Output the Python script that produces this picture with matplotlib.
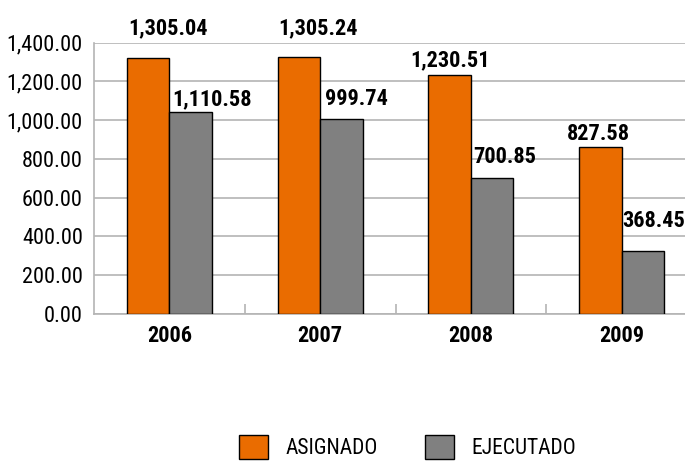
import matplotlib
matplotlib.use('Agg')
import matplotlib.pyplot as plt
import numpy as np

# values
years = ['2006', '2007', '2008', '2009']
asignado_height = [1322, 1328, 1235, 860]
ejecutado_height = [1042, 1006, 700, 325]
asignado_labels = ['1,305.04', '1,305.24', '1,230.51', '827.58']
ejecutado_labels = ['1,110.58', '999.74', '700.85', '368.45']
yticks = [0, 200, 400, 600, 800, 1000, 1200, 1400]

ORANGE = '#EA6C00'
GREY = '#808080'
GRID = '#B4B4B4'

plt.rcParams['font.family'] = ['Roboto Condensed', 'Archivo Narrow', 'DejaVu Sans']


def plot_bars():
    fig = plt.figure(figsize=(6.85, 4.61), dpi=100)
    ax = fig.add_axes([94 / 685, 147 / 461, 603 / 685, 271.3 / 461])

    x = np.arange(len(years))
    w = 0.282
    b1 = ax.bar(x - w / 2, asignado_height, w, color=ORANGE, edgecolor='black',
                linewidth=1.0, label='ASIGNADO', zorder=3)
    b2 = ax.bar(x + w / 2, ejecutado_height, w, color=GREY, edgecolor='black',
                linewidth=1.0, label='EJECUTADO', zorder=3)

    # label offsets in pixels (dx, dy above bar top), placed as in the reference
    off1 = [(20, 24), (19, 22), (0, 8), (-2, 7)]
    off2 = [(21, 7), (15, 14), (13, 15), (11, 24)]
    for bars, labels, offs in ((b1, asignado_labels, off1), (b2, ejecutado_labels, off2)):
        for rect, lab, (dx, dy) in zip(bars, labels, offs):
            ax.annotate(lab, (rect.get_x() + rect.get_width() / 2, rect.get_height()),
                        xytext=(dx, dy), textcoords='offset pixels',
                        ha='center', va='baseline', fontsize=16, fontweight='bold',
                        clip_on=False)

    ax.set_xlim(-0.5, len(years) - 0.5)
    ax.set_ylim(0, 1400)
    ax.set_yticks(yticks)
    ax.set_yticklabels(['{:,.2f}'.format(v) for v in yticks], fontsize=16)
    ax.set_xticks(x)
    ax.set_xticklabels(years, fontsize=16, fontweight='bold')
    ax.set_xticks(x[:-1] + 0.5, minor=True)
    ax.tick_params(axis='x', which='major', length=0, pad=8)
    ax.tick_params(axis='x', which='minor', direction='in', length=7.5, color=GRID, width=1.2)
    ax.tick_params(axis='y', length=0, pad=8)

    ax.yaxis.grid(True, color=GRID, linewidth=1.2, zorder=0)
    ax.set_axisbelow(True)
    for s in ('top', 'right'):
        ax.spines[s].set_visible(False)
    for s in ('left', 'bottom'):
        ax.spines[s].set_color(GRID)
        ax.spines[s].set_linewidth(1.2)

    fig.legend(handles=[b1, b2], loc='center', bbox_to_anchor=(0.595, 0.03),
               ncol=2, frameon=False, fontsize=15.5, handlelength=1.35, handleheight=1.35,
               handletextpad=0.8, columnspacing=2.2)
    fig.savefig('out.png', dpi=100)


if __name__ == '__main__':
    plot_bars()
